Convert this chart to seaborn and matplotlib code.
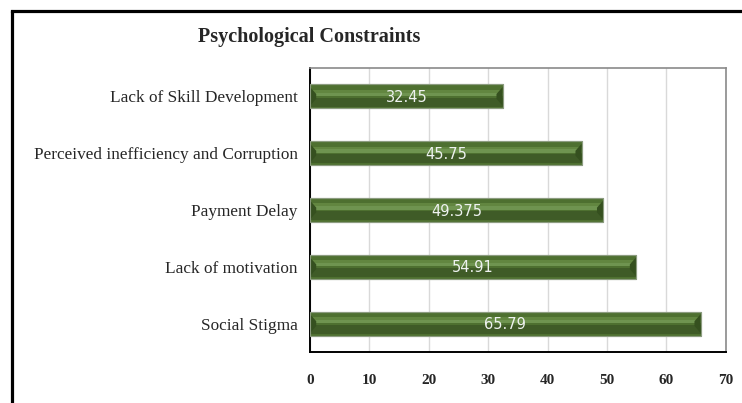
import matplotlib
matplotlib.use("Agg")
import matplotlib.pyplot as plt
import seaborn as sns
import pandas as pd
from matplotlib.patches import Rectangle, Polygon
from matplotlib.lines import Line2D

categories = ["Lack of Skill Development", "Perceived inefficiency and Corruption",
              "Payment Delay", "Lack of motivation", "Social Stigma"]
values = [32.45, 45.75, 49.375, 54.91, 65.79]
value_labels = ["32.45", "45.75", "49.375", "54.91", "65.79"]
x_ticks = [0, 10, 20, 30, 40, 50, 60, 70]
title = "Psychological Constraints"

df = pd.DataFrame({"cat": categories, "val": values})

sns.set_theme(style="white")
plt.rcParams["font.family"] = ["Liberation Serif", "DejaVu Serif"]

fig = plt.figure(figsize=(7.42, 4.03), dpi=100)
ax = fig.add_axes([310 / 742, 1 - 352 / 403, (725.7 - 310) / 742, (352 - 68) / 403])

sns.barplot(data=df, x="val", y="cat", orient="h", color="#4e7030",
            saturation=1, width=0.42, edgecolor="#8c9c80", linewidth=0.8, ax=ax, zorder=3)

bars = list(ax.patches)
for p in bars:
    x0, y0 = p.get_x(), p.get_y()
    w, h = p.get_width(), p.get_height()
    # larger y = lower on screen (inverted category axis)
    ax.add_patch(Rectangle((x0, y0 + h * 0.22), w, h * 0.12, color="#62864080".replace("80", ""), lw=0, zorder=4))
    ax.add_patch(Rectangle((x0, y0 + h * 0.34), w, h * 0.14, color="#6f9450", lw=0, zorder=4))
    ax.add_patch(Rectangle((x0, y0 + h * 0.55), w, h * 0.38, color="#3f5b27", lw=0, zorder=4))
    # end bevels
    dx = 0.025 * 70 * 0.6
    ax.add_patch(Polygon([(x0, y0 + h * 0.1), (x0 + dx, y0 + h * 0.4), (x0 + dx, y0 + h * 0.6),
                          (x0, y0 + h * 0.9)], closed=True, color="#35501f", lw=0, zorder=4.5))
    xe = x0 + w
    ax.add_patch(Polygon([(xe, y0 + h * 0.1), (xe - dx, y0 + h * 0.4), (xe - dx, y0 + h * 0.6),
                          (xe, y0 + h * 0.9)], closed=True, color="#35501f", lw=0, zorder=4.5))
    ax.add_patch(Rectangle((x0, y0), w, h, fill=False, edgecolor="#8c9c80", lw=0.8, zorder=5))

for p, lab in zip(bars, value_labels):
    ax.text(p.get_x() + p.get_width() / 2, p.get_y() + p.get_height() / 2 + 0.02, lab,
            ha="center", va="center", color="#eef2f0", fontsize=10.5,
            family="DejaVu Sans", zorder=6)

ax.set_xlim(0, 70)
ax.set_xticks(x_ticks)
ax.set_xticklabels([str(t) for t in x_ticks], fontweight="bold", fontsize=11)
ax.tick_params(axis="x", length=0, pad=16)
ax.tick_params(axis="y", length=0, pad=9, labelsize=12.4)
ax.set_xlabel("")
ax.set_ylabel("")
ax.xaxis.grid(True, color="#d9d9d9", lw=1, zorder=0)
ax.yaxis.grid(False)
ax.set_axisbelow(True)

for s in ["left", "bottom"]:
    ax.spines[s].set_color("#000000")
    ax.spines[s].set_linewidth(1.4)
for s in ["top", "right"]:
    ax.spines[s].set_color("#8a8a8a")
    ax.spines[s].set_linewidth(1.2)

fig.text(309.5 / 742, 1 - 37 / 403, title, ha="center", va="center",
         fontsize=14.5, fontweight="bold")

# outer border
fig.add_artist(Line2D([12 / 742, 12 / 742], [0, 1 - 11 / 403], color="black", lw=2.3,
                      transform=fig.transFigure))
fig.add_artist(Line2D([12 / 742, 1], [1 - 11 / 403, 1 - 11 / 403], color="black", lw=2.3,
                      transform=fig.transFigure, solid_capstyle="projecting"))

fig.savefig("out.png", dpi=100)
